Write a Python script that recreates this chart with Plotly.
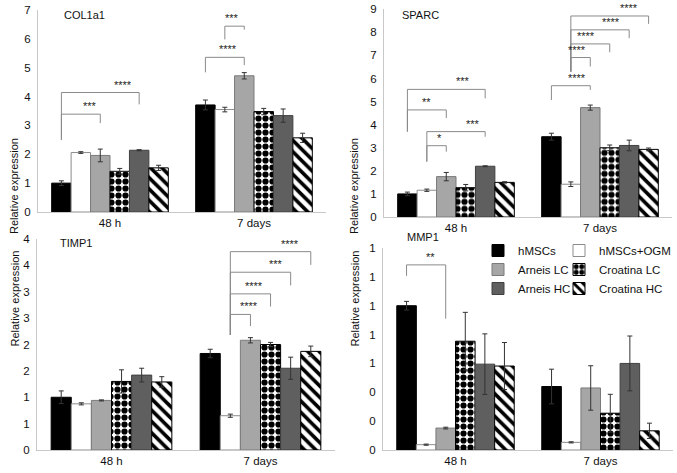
import plotly.graph_objects as go

W, H = 677, 473

SERIES = ["hMSCs", "hMSCs+OGM", "Arneis LC", "Croatina LC", "Arneis HC", "Croatina HC"]
GROUPS = ["48 h", "7 days"]

# mean / error per series, [48 h, 7 days]
COL1A1 = [[1.00, 3.71], [2.06, 3.55], [1.96, 4.72], [1.41, 3.48], [2.14, 3.34], [1.53, 2.57]]
COL1A1_ERR = [[0.08, 0.17], [0.03, 0.08], [0.22, 0.11], [0.10, 0.11], [0.02, 0.23], [0.09, 0.16]]

SPARC = [[1.00, 3.48], [1.16, 1.42], [1.75, 4.74], [1.27, 3.00], [2.20, 3.10], [1.50, 2.93]]
SPARC_ERR = [[0.08, 0.15], [0.05, 0.10], [0.18, 0.11], [0.14, 0.12], [0.02, 0.23], [0.03, 0.06]]

TIMP1 = [[1.00, 1.83], [0.875, 0.65], [0.94, 2.08], [1.30, 2.00], [1.42, 1.55], [1.29, 1.87]]
TIMP1_ERR = [[0.12, 0.08], [0.02, 0.03], [0.01, 0.05], [0.22, 0.04], [0.13, 0.21], [0.10, 0.10]]

MMP1 = [[1.00, 0.44], [0.037, 0.053], [0.152, 0.43], [0.754, 0.255], [0.595, 0.60], [0.582, 0.133]]
MMP1_ERR = [[0.03, 0.12], [0.004, 0.004], [0.006, 0.154], [0.20, 0.131], [0.21, 0.19], [0.163, 0.053]]

# tick labels (Excel shows them rounded to integers)
COL1A1_TICKS = [0, 1, 2, 3, 4, 5, 6, 7]
SPARC_TICKS = [0, 1, 2, 3, 4, 5, 6, 7, 8, 9]
TIMP1_TICKS = [0, 0.5, 1, 1.5, 2, 2.5, 3, 3.5, 4]
TIMP1_TICKTEXT = ["0", "1", "1", "2", "2", "3", "3", "4", "4"]
MMP1_TICKS = [0, 0.2, 0.4, 0.6, 0.8, 1.0, 1.2, 1.4]
MMP1_TICKTEXT = ["0", "0", "0", "1", "1", "1", "1", "1"]

# significance brackets: group, bar a, bar b, top, left leg end, right leg end, label, label pos
COL1A1_SIG = [
    (0, 0, 2, 3.39, 2.50, 3.08, "***", 0.74),
    (0, 0, 4, 4.14, 2.50, 3.73, "****", 0.79),
    (1, 0, 2, 5.36, 4.84, 5.09, "****", 0.58),
    (1, 1, 2, 6.44, 5.98, 6.32, "***", 0.37),
]
SPARC_SIG = [
    (0, 0, 2, 4.64, 3.70, 4.29, "**", 0.50),
    (0, 0, 4, 5.53, 3.70, 5.14, "***", 0.72),
    (0, 1, 2, 3.09, 2.40, 2.83, "*", 0.66),
    (0, 1, 4, 3.70, 2.40, 3.48, "***", 0.79),
    (1, 0, 2, 5.69, 5.07, 5.51, "****", 0.65),
    (1, 1, 2, 6.91, 6.30, 6.52, "****", 0.30),
    (1, 1, 3, 7.50, 6.30, 7.14, "****", 0.40),
    (1, 1, 4, 8.11, 6.30, 7.75, "****", 0.68),
    (1, 1, 5, 8.71, 6.30, 8.37, "****", 0.75),
]
TIMP1_SIG = [
    (1, 1, 2, 2.57, 2.18, 2.35, "****", 0.95),
    (1, 1, 3, 2.96, 2.18, 2.72, "****", 0.59),
    (1, 1, 4, 3.37, 2.18, 3.12, "***", 0.75),
    (1, 1, 5, 3.76, 2.18, 3.51, "****", 0.74),
]
MMP1_SIG = [
    (0, 0, 2, 1.283, 1.207, 0.91, "**", 0.60),
]

FONT = "Liberation Sans, Arial, sans-serif"
BARGAP = 0.19

styles = [
    dict(color="black", line=dict(color="black", width=1)),
    dict(color="white", line=dict(color="#8c8c8c", width=1)),
    dict(color="#a6a6a6", line=dict(color="#7a7a7a", width=1)),
    dict(color="white", line=dict(color="black", width=1),
         pattern=dict(shape=".", fgcolor="black", bgcolor="white", size=7, solidity=0.62, fillmode="replace")),
    dict(color="#5f5f5f", line=dict(color="#404040", width=1)),
    dict(color="white", line=dict(color="black", width=1),
         pattern=dict(shape="\\", fgcolor="black", bgcolor="white", size=8, solidity=0.45, fillmode="replace")),
]

# name, means, errors, y max, ticks, tick text, brackets, x span px, y span px, name pos px
panels = [
    ("COL1a1", COL1A1, COL1A1_ERR, 7, COL1A1_TICKS, None, COL1A1_SIG, (38, 326), (10, 212), (62, 15)),
    ("SPARC", SPARC, SPARC_ERR, 9, SPARC_TICKS, None, SPARC_SIG, (384, 672), (9.3, 217), (400, 15)),
    ("TIMP1", TIMP1, TIMP1_ERR, 4, TIMP1_TICKS, TIMP1_TICKTEXT, TIMP1_SIG, (37, 335), (239, 450), (58, 243)),
    ("MMP1", MMP1, MMP1_ERR, 1.4, MMP1_TICKS, MMP1_TICKTEXT, MMP1_SIG, (383, 673), (248, 450), (405, 237)),
]


def bar_x(group, i):
    w = (1 - BARGAP) / len(SERIES)
    return group - (1 - BARGAP) / 2 + (i + 0.5) * w


fig = go.Figure()
shapes, annos = [], []

for p, (name, vals, errs, ymax, ticks, ticktext, sig, xpx, ypx, npos) in enumerate(panels):
    sfx = "" if p == 0 else str(p + 1)
    for i, s in enumerate(SERIES):
        fig.add_trace(go.Bar(
            x=GROUPS, y=vals[i], name=s, marker=styles[i],
            error_y=dict(type="data", array=errs[i], color="#333333", thickness=1, width=2.5),
            xaxis="x" + sfx, yaxis="y" + sfx,
            showlegend=(p == 0), legendgroup=s,
            legend="legend" if i % 2 == 0 else "legend2",
        ))
    fig.layout["xaxis" + sfx] = dict(
        domain=[xpx[0] / W, xpx[1] / W], anchor="y" + sfx, range=[-0.5, 1.5],
        showline=True, linecolor="#c8c8c8", linewidth=1, ticks="",
        tickfont=dict(size=11.5, color="#111"), showgrid=False, fixedrange=True,
    )
    fig.layout["yaxis" + sfx] = dict(
        domain=[1 - ypx[1] / H, 1 - ypx[0] / H], anchor="x" + sfx, range=[0, ymax],
        showline=True, linecolor="#c8c8c8", linewidth=1, ticks="",
        tickvals=ticks, ticktext=ticktext if ticktext else [str(t) for t in ticks],
        tickfont=dict(size=11.5, color="#111"), showgrid=False, zeroline=False,
        ticklabelstandoff=4,
    )
    xa, ya = "x" + sfx, "y" + sfx
    for g, a, b, top, lb, rb, lab, frac in sig:
        xa0, xb0 = bar_x(g, a), bar_x(g, b)
        line = dict(color="#8a8a8a", width=1)
        shapes.append(dict(type="line", xref=xa, yref=ya, x0=xa0, x1=xb0, y0=top, y1=top, line=line))
        shapes.append(dict(type="line", xref=xa, yref=ya, x0=xa0, x1=xa0, y0=lb, y1=top, line=line))
        shapes.append(dict(type="line", xref=xa, yref=ya, x0=xb0, x1=xb0, y0=rb, y1=top, line=line))
        annos.append(dict(x=xa0 + frac * (xb0 - xa0), y=top, xref=xa, yref=ya, text=lab,
                          showarrow=False, yanchor="bottom", font=dict(size=11, color="#222")))
    # panel name
    annos.append(dict(x=npos[0] / W, y=1 - npos[1] / H, xref="paper", yref="paper",
                      text=name, showarrow=False, xanchor="left", yanchor="middle",
                      font=dict(size=11, color="#111")))

for xp, yp in [(6, 136), (354, 136), (6, 348.5), (354, 348.5)]:
    annos.append(dict(x=xp / W, y=1 - yp / H, xref="paper", yref="paper", text="Relative expression",
                      textangle=-90, showarrow=False, font=dict(size=11, color="#111")))

leg = dict(bgcolor="rgba(0,0,0,0)", borderwidth=0, font=dict(size=11.5, color="#111"),
           yanchor="top", xanchor="left", tracegroupgap=0)
fig.update_layout(
    width=W, height=H, margin=dict(l=0, r=0, t=0, b=0, autoexpand=False),
    paper_bgcolor="white", plot_bgcolor="white",
    font=dict(family=FONT, color="#111"),
    barmode="group", bargap=BARGAP, bargroupgap=0,
    shapes=shapes, annotations=annos,
    legend=dict(leg, x=(518 - 40) / W, y=1 - 236 / H),
    legend2=dict(leg, x=(599 - 40) / W, y=1 - 236 / H),
)

# page body has a default 8px margin; drop it so the figure fills the window
fig.write_html("out.html", config={"displayModeBar": False},
               post_script="document.body.style.margin='0';")
